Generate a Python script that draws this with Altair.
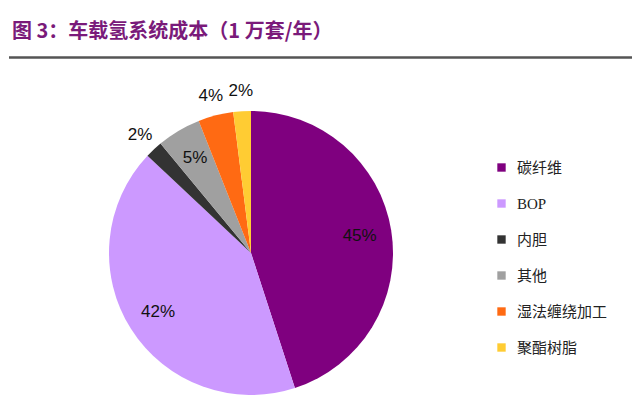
import altair as alt
import pandas as pd

categories = ["碳纤维", "BOP", "内胆", "其他", "湿法缠绕加工", "聚酯树脂"]
values = [45, 42, 2, 5, 4, 2]
labels = ["45%", "42%", "2%", "5%", "4%", "2%"]
colors = ["#7F007F", "#CC99FF", "#333333", "#A0A0A0", "#FF6A13", "#FFCC33"]
title_text = "图 3：车载氢系统成本（1 万套/年）"

df = pd.DataFrame({
    "cat": categories,
    "val": values,
    "label": labels,
    "idx": list(range(len(categories))),
})

cx, cy, R = 243, 245, 142

pie = alt.Chart(df).mark_arc(outerRadius=R).encode(
    theta=alt.Theta("val:Q", stack=True),
    order=alt.Order("idx:Q"),
    x=alt.value(cx),
    y=alt.value(cy),
    color=alt.Color(
        "cat:N",
        scale=alt.Scale(domain=categories, range=colors),
        sort=categories,
        legend=alt.Legend(
            title=None,
            orient="none",
            legendX=486,
            legendY=152,
            symbolType="square",
            symbolSize=70,
            symbolStrokeWidth=0,
            labelFont="Liberation Serif, Noto Sans CJK SC",
            labelFontSize=15,
            labelColor="#222222",
            labelOffset=8,
            rowPadding=20,
            labelLimit=200,
        ),
    ),
)

lab_base = alt.Chart(df).transform_window(
    cum="sum(val)", sort=[alt.SortField("idx")], frame=[None, 0]
).transform_joinaggregate(
    total="sum(val)"
).transform_calculate(
    mid="(datum.cum - datum.val / 2) / datum.total"
)

def label_layer(cond, radius):
    return lab_base.transform_filter(cond).mark_text(
        radius=radius, font="Liberation Sans", fontSize=17, color="#111111"
    ).encode(
        theta=alt.Theta("mid:Q", stack=None, scale=alt.Scale(domain=[0, 1])),
        x=alt.value(cx), y=alt.value(cy), text="label:N",
    )

inside = label_layer(alt.datum.val >= 5, 110)
outside = label_layer(alt.datum.val < 5, 162)

title = alt.Chart(pd.DataFrame({"t": [title_text]})).mark_text(
    align="left", baseline="middle", font="Noto Sans CJK SC",
    fontSize=20, fontWeight="bold", color="#7A1A7A"
).encode(x=alt.value(4), y=alt.value(24), text="t:N")

rule = alt.Chart(pd.DataFrame({"a": [0]})).mark_rule(
    color="#555555", strokeWidth=2.5
).encode(x=alt.value(1), x2=alt.value(632), y=alt.value(49.5))

chart = alt.layer(pie, inside, outside, title, rule).resolve_scale(
    theta="independent"
).properties(
    width=624, height=400, padding=0,
    autosize=alt.AutoSizeParams(type="none"),
).configure(background="white").configure_view(stroke=None)

chart.save("out.html", embed_options={"renderer": "svg", "actions": False})
